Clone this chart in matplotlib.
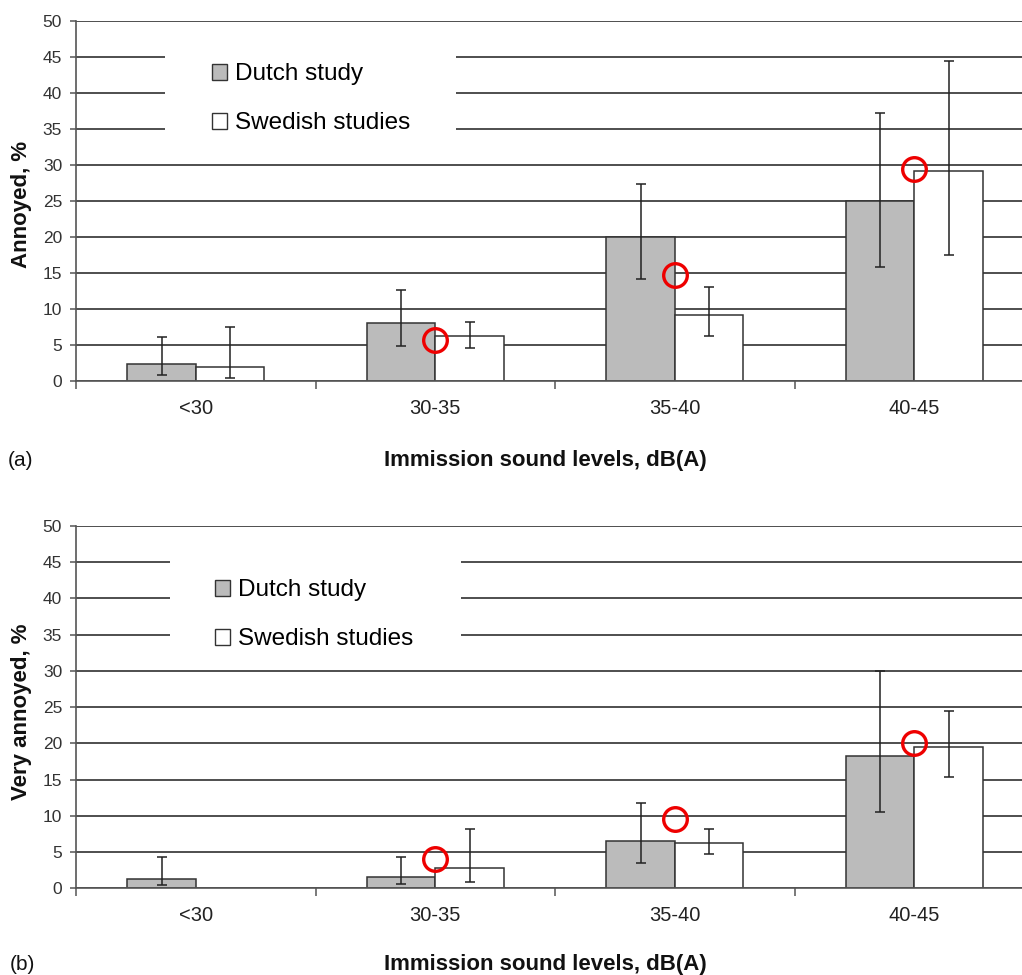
import numpy as np
import matplotlib.pyplot as plt
from matplotlib.patches import Rectangle, Patch

plt.rcParams['font.family'] = ['Liberation Sans', 'DejaVu Sans']

# Sound level classes
categories = ['<30', '30-35', '35-40', '40-45']

# (a) Annoyed, %
dutch_a = [2.4, 8.0, 20.0, 25.0]
dutch_a_low = [0.8, 4.9, 14.2, 15.8]
dutch_a_high = [6.1, 12.6, 27.4, 37.2]
swedish_a = [2.0, 6.2, 9.1, 29.2]
swedish_a_low = [0.4, 4.6, 6.3, 17.5]
swedish_a_high = [7.5, 8.2, 13.1, 44.4]
circles_a = [5.7, 14.7, 29.5]      # red circles at 30-35, 35-40, 40-45

# (b) Very annoyed, %
dutch_b = [1.3, 1.5, 6.5, 18.2]
dutch_b_low = [0.45, 0.6, 3.5, 10.5]
dutch_b_high = [4.3, 4.3, 11.8, 30.0]
swedish_b = [np.nan, 2.8, 6.3, 19.5]   # no Swedish value below 30 dB(A)
swedish_b_low = [np.nan, 0.9, 4.8, 15.3]
swedish_b_high = [np.nan, 8.2, 8.2, 24.5]
circles_b = [4.0, 9.6, 20.1]

yticks = list(range(0, 55, 5))

GRAY = '#bbbbbb'
EDGE = '#333333'
GRID = '#303030'


def draw_panel(ax, dutch, d_lo, d_hi, swed, s_lo, s_hi, circles, leg_x, leg_y, rect_x):
    x = np.arange(len(categories))
    w = 1 / 3.5
    for vals, lo, hi, off, color in [(dutch, d_lo, d_hi, -w / 2, GRAY),
                                     (swed, s_lo, s_hi, w / 2, 'white')]:
        vals = np.array(vals, dtype=float)
        lo = np.array(lo, dtype=float)
        hi = np.array(hi, dtype=float)
        ok = ~np.isnan(vals)
        ax.bar(x[ok] + off, vals[ok], width=w, color=color, edgecolor=EDGE,
               linewidth=1.1, zorder=2)
        ax.errorbar(x[ok] + off, vals[ok], yerr=[vals[ok] - lo[ok], hi[ok] - vals[ok]],
                    fmt='none', ecolor='#222222', elinewidth=1.1, capsize=3.6,
                    capthick=1.1, zorder=3)

    ax.plot(x[1:], circles, 'o', ms=17, mfc='none', mec='#ee0000', mew=2.4,
            zorder=4, clip_on=False)

    ax.set_xlim(-0.5, 3.449)
    ax.set_ylim(0, 50)
    ax.set_yticks(yticks)
    ax.set_axisbelow(True)
    ax.yaxis.grid(True, color=GRID, linewidth=1.2)
    ax.tick_params(axis='y', length=4, width=1.1, color='#555555', pad=6,
                   labelsize=12.5, labelcolor='#333333')

    ax.set_xticks([-0.5, 0.5, 1.5, 2.5])
    ax.set_xticklabels([])
    ax.tick_params(axis='x', which='major', length=6, width=1.1, color='#555555')
    ax.set_xticks(x, minor=True)
    ax.set_xticklabels(categories, minor=True)
    ax.tick_params(axis='x', which='minor', length=0, pad=13, labelsize=14.5,
                   labelcolor='#222222')

    for side in ['top', 'right']:
        ax.spines[side].set_visible(False)
    for side in ['left', 'bottom']:
        ax.spines[side].set_color('#555555')
        ax.spines[side].set_linewidth(1.2)

    # white box behind the legend that breaks the gridlines
    ax.add_patch(Rectangle((rect_x, 0.62), 0.308, 0.33, transform=ax.transAxes,
                           facecolor='white', edgecolor='none', zorder=1))
    handles = [Patch(facecolor=GRAY, edgecolor=EDGE, linewidth=1.0, label='Dutch study'),
               Patch(facecolor='white', edgecolor=EDGE, linewidth=1.0, label='Swedish studies')]
    ax.legend(handles=handles, loc='upper left', bbox_to_anchor=(leg_x, leg_y),
              frameon=False, fontsize=17.5, handlelength=0.6, handleheight=0.6,
              handletextpad=0.35, labelspacing=1.11, borderpad=0, borderaxespad=0)


fig = plt.figure(figsize=(10.22, 9.75), dpi=100)

ax1 = fig.add_axes([0.0744, 0.6092, 0.9256, 0.3693])
draw_panel(ax1, dutch_a, dutch_a_low, dutch_a_high, swedish_a, swedish_a_low,
           swedish_a_high, circles_a, 0.1438, 0.882, 0.094)

ax2 = fig.add_axes([0.0744, 0.0889, 0.9256, 0.3719])
draw_panel(ax2, dutch_b, dutch_b_low, dutch_b_high, swedish_b, swedish_b_low,
           swedish_b_high, circles_b, 0.147, 0.852, 0.0994)

fig.text(0.0215, 0.790, 'Annoyed, %', rotation=90, ha='center', va='center',
         fontsize=16, fontweight='bold', color='#111111')
fig.text(0.0215, 0.270, 'Very annoyed, %', rotation=90, ha='center', va='center',
         fontsize=16, fontweight='bold', color='#111111')

fig.text(0.534, 0.528, 'Immission sound levels, dB(A)', ha='center', va='center',
         fontsize=16, fontweight='bold', color='#111111')
fig.text(0.534, 0.011, 'Immission sound levels, dB(A)', ha='center', va='center',
         fontsize=16, fontweight='bold', color='#111111')
fig.text(0.008, 0.528, '(a)', ha='left', va='center', fontsize=15, color='#111111')
fig.text(0.010, 0.011, '(b)', ha='left', va='center', fontsize=15, color='#111111')

fig.savefig('out.png', dpi=100)
